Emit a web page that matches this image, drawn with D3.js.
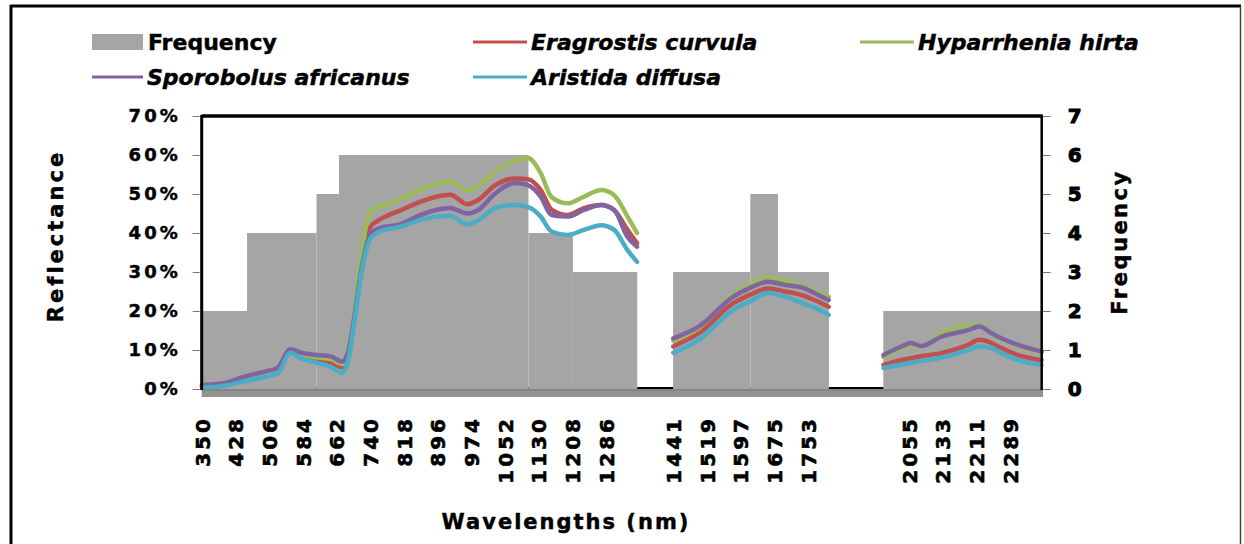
<!DOCTYPE html>
<html>
<head>
<meta charset="utf-8">
<script src="https://cdn.jsdelivr.net/npm/d3@7"></script>
<style>
  html, body { margin: 0; padding: 0; background: #fff; }
  svg { display: block; }
  text { font-family: "DejaVu Sans", "Liberation Sans", sans-serif; font-weight: bold; fill: #000;
         stroke: #000; stroke-width: 0.45px; }
</style>
</head>
<body>
<svg id="chart" width="1244" height="544"></svg>
<script>
// Category axis: one category per nm, with the water absorption bands collapsed.
const segFirstWl  = [350, 1441, 1996];
const segLastWl   = [1358, 1801, 2362];
const segFirstCat = [0, 1092, 1579];
const categoryCount = 1946;

const tickLabels = [350, 428, 506, 584, 662, 740, 818, 896, 974, 1052, 1130, 1208, 1286,
                    1441, 1519, 1597, 1675, 1753, 2055, 2133, 2211, 2289];
const freqTicks = [0, 1, 2, 3, 4, 5, 6, 7];

// Mean reflectance (%) sampled along the spectrum
const wavelengths = [
  350, 400, 450, 500, 525, 555, 580, 610, 650, 675, 690, 705, 720, 740, 760, 810, 860, 925, 965, 990,
  1030, 1075, 1105, 1135, 1160, 1197, 1235, 1275, 1305, 1336, 1358,
  1441, 1500, 1580, 1620, 1660, 1700, 1740, 1770, 1801,
  1996, 2037, 2060, 2083, 2130, 2192, 2218, 2246, 2269, 2308, 2362
];
const eragrostis = [
  0.8, 1.3, 2.8, 4.2, 5.0, 9.8, 8.6, 7.8, 6.8, 5.6, 9.5, 20, 31, 41.5, 43.3, 45.8, 48.2, 49.8, 47.4, 48.5,
  52.3, 54.0, 53.8, 51.0, 46.0, 44.6, 46.4, 47.2, 45.9, 40.8, 37.4,
  10.9, 14.3, 22.0, 24.2, 25.8, 25.0, 24.0, 22.7, 21.1,
  6.2, 7.4, 7.9, 8.4, 9.2, 11.3, 12.6, 11.8, 10.5, 8.7, 7.4
];
const hyparrhenia = [
  0.8, 1.3, 2.8, 4.2, 5.0, 9.9, 8.9, 8.2, 7.6, 6.4, 10.5, 22, 35, 45.5, 46.7, 48.7, 51.3, 53.2, 51.0, 52.0,
  55.9, 58.5, 59.2, 55.3, 49.2, 47.6, 49.3, 51.0, 49.7, 44.2, 40.0,
  12.4, 15.6, 24.2, 26.8, 28.6, 27.8, 26.4, 25.0, 23.6,
  8.2, 10.3, 11.2, 11.0, 14.2, 16.4, 16.4, 14.2, 12.8, 11.0, 9.3
];
const sporobolus = [
  1.0, 1.5, 3.2, 4.6, 5.4, 10.2, 9.3, 8.8, 8.3, 7.0, 10.0, 20, 31, 39.5, 41.2, 42.3, 44.8, 46.4, 45.0, 45.9,
  50.2, 52.8, 52.3, 49.3, 44.6, 44.2, 45.9, 47.2, 45.9, 39.0, 36.5,
  13.0, 16.0, 23.7, 26.0, 27.5, 26.7, 26.0, 24.5, 22.8,
  8.7, 10.9, 11.8, 11.0, 13.4, 15.1, 16.0, 14.3, 13.0, 11.3, 9.6
];
const aristida = [
  0.4, 0.8, 2.0, 3.2, 3.9, 9.2, 7.8, 6.9, 5.6, 4.1, 8.0, 18.5, 30, 38.5, 40.3, 41.6, 43.5, 44.4, 42.2, 43.3,
  46.4, 47.2, 46.7, 44.2, 40.4, 39.5, 40.8, 42.0, 40.8, 35.6, 32.6,
  9.3, 12.6, 20.3, 22.5, 24.6, 23.7, 22.0, 20.8, 19.0,
  5.4, 6.2, 6.7, 7.2, 8.0, 10.0, 10.9, 10.5, 9.2, 7.4, 6.2
];

// Frequency of selected bands per wavelength interval
const freqStart = [350, 455, 616, 668, 1107, 1210, 1441, 1620, 1684, 1996];
const freqEnd   = [454, 615, 667, 1106, 1209, 1358, 1619, 1683, 1801, 2362];
const freqValue = [2, 4, 5, 6, 4, 3, 3, 5, 3, 2];

const seriesNames  = ["Eragrostis curvula", "Hyparrhenia hirta", "Sporobolus africanus", "Aristida diffusa"];
const seriesValues = [eragrostis, hyparrhenia, sporobolus, aristida];
const seriesColors = ["#C0504D", "#9BBB59", "#8064A2", "#4BACC6"];

const svg = d3.select("#chart");
const plot = { left: 201.7, right: 1041.7, top: 116, bottom: 389 };

// wavelength -> category index (piecewise over the kept segments)
const catDomain = [], catRange = [];
segFirstWl.forEach((w, i) => {
  catDomain.push(w, segLastWl[i]);
  catRange.push(segFirstCat[i], segFirstCat[i] + segLastWl[i] - w);
});
const xCat = d3.scaleLinear().domain([0, categoryCount]).range([plot.left, plot.right]);
const halfCat = (xCat(1) - xCat(0)) / 2;
// wavelength -> pixel at category centre
const x = d3.scaleLinear().domain(catDomain).range(catRange.map(c => xCat(c + 0.5)));

const yL = d3.scaleLinear().domain([0, 70]).range([plot.bottom, plot.top]);
const yR = d3.scaleLinear().domain([0, 7]).range([plot.bottom, plot.top]);

// outer frame
svg.append("line").attr("x1", 10).attr("x2", 1241).attr("y1", 6).attr("y2", 6)
  .attr("stroke", "#000").attr("stroke-width", 3);
svg.append("line").attr("x1", 11).attr("x2", 11).attr("y1", 5).attr("y2", 544)
  .attr("stroke", "#000").attr("stroke-width", 3);
svg.append("line").attr("x1", 1240.5).attr("x2", 1240.5).attr("y1", 6).attr("y2", 544)
  .attr("stroke", "#444").attr("stroke-width", 1.5);

// floor band under the plot
svg.append("rect").attr("x", plot.left).attr("y", plot.bottom).attr("width", 1043 - plot.left).attr("height", 8)
  .attr("fill", "#929292");
svg.append("rect").attr("x", plot.left).attr("y", plot.bottom).attr("width", 1043 - plot.left).attr("height", 2)
  .attr("fill", "#858585");

// zero line (visible where there are no columns)
svg.append("line").attr("x1", plot.left).attr("x2", plot.right)
  .attr("y1", plot.bottom - 1).attr("y2", plot.bottom - 1)
  .attr("stroke", "#000").attr("stroke-width", 2);

// frequency columns
svg.append("g").selectAll("rect").data(freqValue).join("rect")
  .attr("x", (d, i) => x(freqStart[i]) - halfCat)
  .attr("width", (d, i) => x(freqEnd[i]) - x(freqStart[i]) + 2 * halfCat)
  .attr("y", d => yR(d))
  .attr("height", d => yR(0) - yR(d))
  .attr("fill", "#A5A5A5");

// reflectance curves, broken at the removed bands
const line = d3.line()
  .x(d => x(d[0]))
  .y(d => yL(d[1]))
  .curve(d3.curveMonotoneX);

const lineG = svg.append("g");
seriesValues.forEach((vals, s) => {
  segFirstWl.forEach((w0, k) => {
    const pts = wavelengths.map((w, i) => [w, vals[i]])
      .filter(p => p[0] >= w0 && p[0] <= segLastWl[k]);
    lineG.append("path").datum(pts)
      .attr("d", line)
      .attr("fill", "none")
      .attr("stroke", seriesColors[s])
      .attr("stroke-width", 4.5)
      .attr("stroke-linejoin", "round")
      .attr("stroke-linecap", "round");
  });
});

// plot frame
svg.append("line").attr("x1", plot.left).attr("x2", plot.right + 1)
  .attr("y1", plot.top).attr("y2", plot.top).attr("stroke", "#000").attr("stroke-width", 3.5);
svg.append("line").attr("x1", plot.left).attr("x2", plot.left)
  .attr("y1", plot.top - 1).attr("y2", plot.bottom + 1).attr("stroke", "#000").attr("stroke-width", 3);
svg.append("line").attr("x1", plot.right).attr("x2", plot.right)
  .attr("y1", plot.top - 1).attr("y2", plot.bottom + 1).attr("stroke", "#000").attr("stroke-width", 2.5);

const boldText = (sel, weight = 0.45) => sel
  .style("font-family", "'DejaVu Sans', sans-serif")
  .style("font-weight", "bold")
  .attr("fill", "#000")
  .attr("stroke", "#000")
  .style("stroke-width", weight + "px");

// left axis
const gL = svg.append("g").attr("transform", `translate(${plot.left - 2},0)`)
  .call(d3.axisLeft(yL).tickValues(d3.range(0, 71, 10)).tickSize(7).tickPadding(12).tickFormat(d => d + "%"));
gL.select(".domain").remove();
gL.selectAll(".tick line").attr("stroke", "#777");
gL.selectAll(".tick text").attr("font-size", 18).attr("letter-spacing", "3px").call(boldText);

// right axis
const gR = svg.append("g").attr("transform", `translate(${plot.right + 1},0)`)
  .call(d3.axisRight(yR).tickValues(freqTicks).tickSize(8).tickPadding(17).tickFormat(d3.format("d")));
gR.select(".domain").remove();
gR.selectAll(".tick line").attr("stroke", "#777");
gR.selectAll(".tick text").attr("font-size", 20).call(boldText, 1);

// category axis labels, rotated
const gX = svg.append("g").attr("transform", `translate(0,${plot.bottom})`)
  .call(d3.axisBottom(x).tickValues(tickLabels).tickSize(0).tickFormat(d3.format("d")));
gX.select(".domain").remove();
gX.selectAll(".tick text")
  .attr("transform", "rotate(-90)")
  .attr("text-anchor", "end")
  .attr("x", -27).attr("y", 0).attr("dy", "0.36em")
  .attr("font-size", 20).attr("letter-spacing", "3px")
  .call(boldText, 0.6);

// axis titles
svg.append("text").attr("transform", "translate(63,236) rotate(-90)")
  .attr("text-anchor", "middle").attr("font-size", 21).attr("letter-spacing", "3px")
  .text("Reflectance");
svg.append("text").attr("transform", "translate(1127,242) rotate(-90)")
  .attr("text-anchor", "middle").attr("font-size", 21).attr("letter-spacing", "2.5px")
  .text("Frequency");
svg.append("text").attr("x", 566).attr("y", 529)
  .attr("text-anchor", "middle").attr("font-size", 21).attr("letter-spacing", "2px")
  .text("Wavelengths (nm)");

// legend
const legend = svg.append("g");
legend.append("rect").attr("x", 92).attr("y", 34).attr("width", 51).attr("height", 16).attr("fill", "#A5A5A5");
legend.append("text").attr("x", 148).attr("y", 50).attr("font-size", 22).text("Frequency");

const legendPos = [[473, 42], [860, 42], [92, 77], [473, 77]];
seriesNames.forEach((name, s) => {
  const [lx, ly] = legendPos[s];
  const len = s === 2 ? 51 : 54;
  legend.append("line").attr("x1", lx).attr("x2", lx + len).attr("y1", ly).attr("y2", ly)
    .attr("stroke", seriesColors[s]).attr("stroke-width", 3);
  legend.append("text").attr("x", lx + len + 4).attr("y", ly + 8)
    .attr("font-size", 22).attr("font-style", "italic").text(name);
});
</script>
</body>
</html>
